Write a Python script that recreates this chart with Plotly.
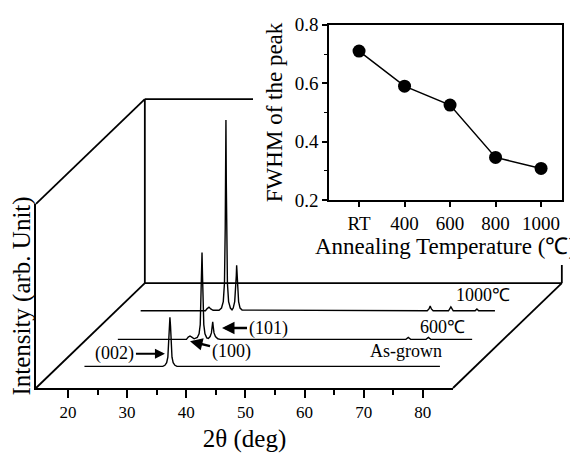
import plotly.graph_objects as go

# ------------------------------------------------------------------
# DATA
# ------------------------------------------------------------------
# Inset: FWHM of the (002) peak vs annealing temperature
anneal_labels = ["RT", "400", "600", "800", "1000"]
anneal_pos = [200, 400, 600, 800, 1000]
fwhm = [0.71, 0.59, 0.525, 0.346, 0.308]
fwhm_ticks = [0.2, 0.4, 0.6, 0.8]
fwhm_minor = [0.3, 0.5, 0.7]

# XRD spectra: 2theta (deg) and intensity (arb.), each in its own frame
asgrown_tt = [19.0, 32.25, 32.6, 32.9, 33.1, 33.25, 33.35, 33.45, 33.55, 33.65,
              33.8, 34.0, 34.3, 34.65, 79.1]
asgrown_int = [0, 0, 0.6, 2, 5, 13, 22, 26.7, 22, 13, 5, 2, 0.6, 0, 0]

a600_tt = [19.9, 31.5, 31.8, 32.1, 32.4, 32.8, 33.33, 33.63, 33.83, 33.97, 34.05,
           34.13, 34.21, 34.29, 34.43, 34.63, 34.93, 35.2, 35.5, 35.72, 35.84,
           35.94, 36.04, 36.16, 36.4, 36.8, 37.2, 68.6, 69.0, 69.4, 72.0, 72.4,
           72.8, 79.8]
a600_int = [0, 0, 1.2, 1.8, 1.2, 0.3, 1, 3, 8, 22, 35,
            47.2, 35, 22, 8, 3, 0.8, 0.5, 1.5, 3.5, 6.5,
            9.5, 6.5, 3.5, 1.5, 0.3, 0, 0, 1, 0, 0, 1,
            0, 0]

a1000_tt = [18.75, 29.7, 30.0, 30.3, 30.6, 31.0, 32.0, 32.42, 32.72, 32.92, 33.05,
            33.11, 33.17, 33.23, 33.29, 33.42, 33.62, 33.92, 34.2, 34.4, 34.65,
            34.83, 34.92, 34.98, 35.04, 35.13, 35.31, 35.56, 35.9, 67.2, 67.5,
            67.7, 67.9, 68.2, 70.8, 71.2, 71.6, 75.3, 75.6, 75.9, 78.65]
a1000_int = [0, 0, 1.2, 2, 1, 0.3, 0.3, 1.5, 5, 15, 45,
             70, 103.6, 70, 45, 15, 5, 1.5, 0.5, 1.5, 5,
             12, 19, 24.7, 19, 12, 5, 1.5, 0.4, 0, 1,
             2.6, 1, 0, 0, 2.1, 0, 0, 1, 0, 0]

spectra_tt = [asgrown_tt, a600_tt, a1000_tt]
spectra_int = [asgrown_int, a600_int, a1000_int]
spectra_names = ["As-grown", "600℃", "1000℃"]
spectra_depth = [0.206, 0.464, 0.736]   # fraction of the box depth

main_ticks = [20, 30, 40, 50, 60, 70, 80]
main_minor = [25, 35, 45, 55, 65, 75]

# ------------------------------------------------------------------
# LAYOUT GEOMETRY (pixel positions measured in the 578x461 window;
# the page body adds an 8px margin, so the figure is 8px smaller)
# ------------------------------------------------------------------
OFF = 8
W, H = 578 - OFF, 461 - OFF


def xp(px):
    return (px - OFF) / W


def yp(py):
    return 1 - (py - OFF) / H


TT_MIN, TT_MAX = 14.6, 85.1      # front 2theta axis span
I_MAX = 100.0                    # front wall height (intensity units)
DEPTH_DX, DEPTH_DY = 18.4, 57.0  # oblique depth vector (deg, intensity units)

front_xdom = [xp(36), xp(453)]
front_ydom = [yp(396), yp(203)]
inset_xdom = [xp(329), xp(562)]
inset_ydom = [yp(199), yp(15)]
panel_left_paper = xp(253)       # white inset panel (covers the back wall)
panel_bottom_paper = yp(267)

# full-figure drawing axes, consistent with the front axes
sx = (TT_MAX - TT_MIN) / (front_xdom[1] - front_xdom[0])
sy = I_MAX / (front_ydom[1] - front_ydom[0])
x2_range = [TT_MIN - front_xdom[0] * sx, TT_MAX + (1 - front_xdom[1]) * sx]
y2_range = [-front_ydom[0] * sy, I_MAX + (1 - front_ydom[1]) * sy]


def paper_to_x2(p):
    return x2_range[0] + p * (x2_range[1] - x2_range[0])


def paper_to_y2(p):
    return y2_range[0] + p * (y2_range[1] - y2_range[0])


FONT = "Liberation Serif, Times New Roman, serif"
LW = 1.8

fig = go.Figure()

# front axes subplot (needs a trace to exist)
fig.add_trace(go.Scatter(x=[], y=[], xaxis="x", yaxis="y", showlegend=False,
                         hoverinfo="skip"))

# box frame (oblique projection)
bx0, bx1 = TT_MIN + DEPTH_DX, TT_MAX + DEPTH_DX
by0, by1 = DEPTH_DY, I_MAX + DEPTH_DY
fx, fy = [], []
segs = [
    ((TT_MIN, 0), (bx0, by0)),
    ((TT_MIN, I_MAX), (bx0, by1)),
    ((bx0, by0), (bx0, by1)),
    ((bx0, by1), (paper_to_x2(panel_left_paper), by1)),
    ((bx0, by0), (bx1, by0)),
    ((TT_MAX, 0), (bx1, by0)),
    ((bx1, by0), (bx1, paper_to_y2(panel_bottom_paper))),
]
for (xa, ya), (xb, yb) in segs:
    fx += [xa, xb, None]
    fy += [ya, yb, None]
fig.add_trace(go.Scatter(x=fx, y=fy, mode="lines", xaxis="x2", yaxis="y2",
                         line=dict(color="black", width=LW), showlegend=False,
                         hoverinfo="skip"))

# spectra
for tt, inten, f in zip(spectra_tt, spectra_int, spectra_depth):
    fig.add_trace(go.Scatter(
        x=[t + f * DEPTH_DX for t in tt],
        y=[v + f * DEPTH_DY for v in inten],
        mode="lines", xaxis="x2", yaxis="y2",
        line=dict(color="black", width=1.4), showlegend=False, hoverinfo="skip"))

# inset
fig.add_trace(go.Scatter(x=anneal_pos, y=fwhm, mode="lines+markers",
                         xaxis="x3", yaxis="y3",
                         line=dict(color="black", width=1.5),
                         marker=dict(color="black", size=13),
                         showlegend=False, hoverinfo="skip"))

txt = dict(family=FONT, size=18, color="black")
arrow = dict(showarrow=True, arrowhead=2, arrowsize=1, arrowcolor="black",
             xref="x2", yref="y2", font=txt)
annotations = [
    dict(x=36.4, y=18.6, text="(002)", ax=-50, ay=0, arrowwidth=2, **arrow),
    dict(x=40.64, y=25.4, text="(100)", ax=41, ay=10, arrowwidth=2.5, **arrow),
    dict(x=46.05, y=32.6, text="(101)", ax=46, ay=0, arrowwidth=2.5, **arrow),
    dict(x=77.15, y=20.2, xref="x2", yref="y2", text=spectra_names[0],
         showarrow=False, font=txt),
    dict(x=83.24, y=33.2, xref="x2", yref="y2", text=spectra_names[1],
         showarrow=False, font=txt),
    dict(x=90.17, y=50.8, xref="x2", yref="y2", text=spectra_names[2],
         showarrow=False, font=txt),
]

fig.update_layout(
    width=W, height=H,
    margin=dict(l=0, r=0, t=0, b=0),
    paper_bgcolor="white",
    plot_bgcolor="rgba(0,0,0,0)",
    showlegend=False,
    hovermode=False,
    font=dict(family=FONT, color="black"),
    annotations=annotations,
    xaxis=dict(domain=front_xdom, anchor="y", range=[TT_MIN, TT_MAX],
               showline=True, linewidth=LW, linecolor="black",
               ticks="outside", ticklen=8, tickwidth=1.5, tickcolor="black",
               tickvals=main_ticks, tickfont=dict(family=FONT, size=17),
               minor=dict(tickvals=main_minor, ticks="outside", ticklen=5,
                          tickwidth=1.5, tickcolor="black", showgrid=False),
               showgrid=False, zeroline=False,
               title=dict(text="2θ (deg)", font=dict(family=FONT, size=25),
                          standoff=8)),
    yaxis=dict(domain=front_ydom, anchor="x", range=[0, I_MAX],
               showline=True, linewidth=LW, linecolor="black",
               ticks="", showticklabels=False, showgrid=False, zeroline=False,
               title=dict(text="Intensity (arb. Unit)",
                          font=dict(family=FONT, size=25), standoff=4)),
    xaxis2=dict(domain=[0, 1], anchor="y2", range=x2_range, visible=False),
    yaxis2=dict(domain=[0, 1], anchor="x2", range=y2_range, visible=False),
    xaxis3=dict(domain=inset_xdom, anchor="y3", range=[68, 1092],
                showline=True, mirror=True, linewidth=1.5, linecolor="black",
                ticks="outside", ticklen=5, tickwidth=1.5, tickcolor="black",
                tickvals=anneal_pos, ticktext=anneal_labels,
                tickfont=dict(family=FONT, size=19),
                showgrid=False, zeroline=False,
                title=dict(text="Annealing Temperature (℃)",
                           font=dict(family=FONT, size=23), standoff=2)),
    yaxis3=dict(domain=inset_ydom, anchor="x3", range=[0.1995, 0.8005],
                showline=True, mirror=True, linewidth=1.5, linecolor="black",
                ticks="outside", ticklen=5, tickwidth=1.5, tickcolor="black",
                tickvals=fwhm_ticks, ticktext=[f"{v:.1f}" for v in fwhm_ticks],
                tickfont=dict(family=FONT, size=19), ticklabeloverflow="allow",
                minor=dict(tickvals=fwhm_minor, ticks="outside", ticklen=3,
                           tickwidth=1.2, tickcolor="black", showgrid=False),
                showgrid=False, zeroline=False,
                title=dict(text="FWHM of the peak",
                           font=dict(family=FONT, size=23), standoff=6)),
)

fig.write_html("out.html")
